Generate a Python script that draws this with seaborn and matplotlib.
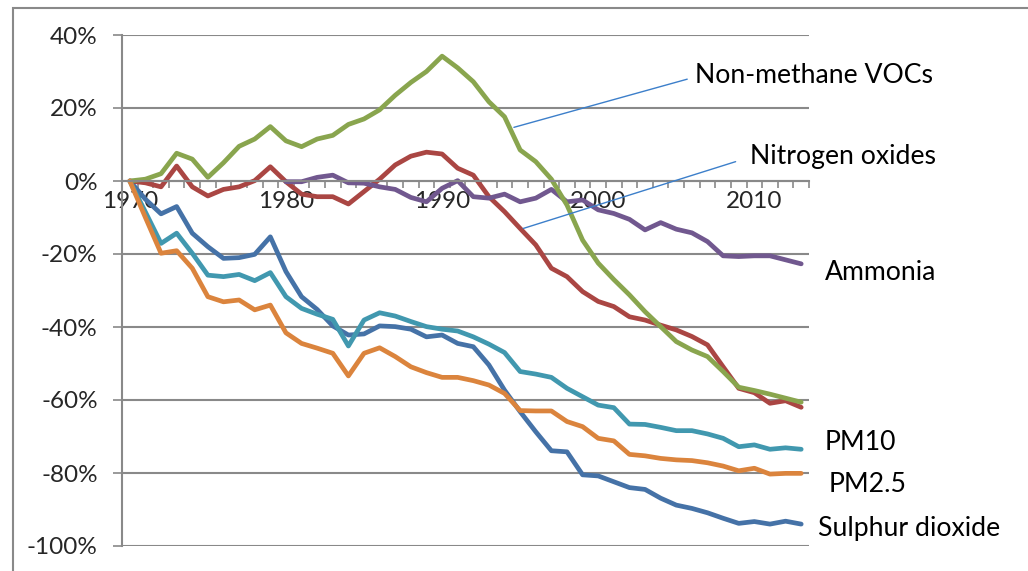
import numpy as np
import pandas as pd
import matplotlib
matplotlib.use("Agg")
import matplotlib.pyplot as plt
import seaborn as sns
from matplotlib.ticker import FixedLocator
from matplotlib.patches import Rectangle

# ---- Data: % change since 1970 ----
YEARS = list(range(1970, 2014))
AMMONIA_YEARS = list(range(1980, 2014))

sulphur_dioxide = [
    0, -5, -9, -7, -14.3, -18, -21.2, -21, -20.1, -15.3,
    -24.8, -31.7, -35.2, -39.7, -42.2, -41.9, -39.7, -39.9, -40.6, -42.7,
    -42.2, -44.5, -45.4, -50.4, -57.3, -63.2, -68.7, -73.9, -74.2, -80.5,
    -80.8, -82.4, -84, -84.5, -86.9, -88.8, -89.7, -90.9, -92.4, -93.8,
    -93.3, -94, -93.2, -94,
]
nitrogen_oxides = [
    0, -0.5, -1.6, 4.1, -1.6, -4.1, -2.3, -1.6, 0.1, 3.9,
    -0.2, -3.6, -4.3, -4.3, -6.3, -2.9, 0.5, 4.4, 6.8, 7.9,
    7.4, 3.5, 1.6, -4.3, -8.4, -13, -17.5, -23.9, -26.2, -30.3,
    -33, -34.4, -37.2, -38.1, -39.5, -40.8, -42.6, -44.9, -50.9, -56.8,
    -58, -60.9, -60.2, -62,
]
nmvocs = [
    0, 0.5, 2, 7.6, 6, 1, 5, 9.5, 11.5, 14.9,
    11, 9.4, 11.5, 12.5, 15.5, 17, 19.5, 23.5, 27, 30,
    34.2, 31, 27.2, 21.7, 17.6, 8.5, 5.3, 0.5, -6.6, -16.2,
    -22.5, -27, -31.2, -35.8, -39.9, -44, -46.3, -48.1, -52.2, -56.5,
    -57.4, -58.4, -59.5, -60.6,
]
ammonia = [
    -0.2, -0.2, 1, 1.6, -0.5, -0.6, -1.6, -2.3, -4.5, -5.7,
    -2, 0.1, -4.3, -4.7, -3.6, -5.7, -4.7, -2.3, -5.7, -5.2,
    -7.9, -8.9, -10.5, -13.4, -11.4, -13.2, -14.2, -16.6, -20.5, -20.7,
    -20.5, -20.5, -21.6, -22.7,
]
pm10 = [
    0, -8.5, -17.1, -14.3, -19.8, -25.8, -26.2, -25.6, -27.3, -25.1,
    -31.7, -34.9, -36.5, -37.9, -45.2, -38.1, -36.1, -37, -38.5, -39.9,
    -40.6, -41.1, -42.7, -44.7, -47, -52.2, -52.9, -53.8, -56.8, -59.1,
    -61.4, -62.1, -66.6, -66.7, -67.5, -68.4, -68.4, -69.3, -70.5, -72.8,
    -72.3, -73.5, -73.1, -73.5,
]
pm25 = [
    0, -10, -19.8, -19.1, -23.9, -31.7, -33.1, -32.6, -35.3, -34,
    -41.6, -44.5, -45.8, -47.2, -53.4, -47.2, -45.7, -48.1, -50.9, -52.5,
    -53.8, -53.8, -54.7, -55.9, -58.2, -62.9, -63, -63, -65.9, -67.3,
    -70.5, -71.2, -74.9, -75.3, -76, -76.4, -76.6, -77.2, -78.1, -79.4,
    -78.7, -80.3, -80.1, -80.1,
]

SERIES = ["Sulphur dioxide", "Nitrogen oxides", "Ammonia",
          "Non-methane VOCs", "PM10", "PM2.5"]
COLORS = {
    "Sulphur dioxide": "#4572A7",
    "Nitrogen oxides": "#AA4643",
    "Non-methane VOCs": "#89A54E",
    "Ammonia": "#71588F",
    "PM10": "#4198AF",
    "PM2.5": "#DB843D",
}
Y_TICKS = [40, 20, 0, -20, -40, -60, -80, -100]
Y_TICK_LABELS = ["40%", "20%", "0%", "-20%", "-40%", "-60%", "-80%", "-100%"]
X_TICKS = [1970, 1980, 1990, 2000, 2010]

GRID = "#898989"

# ---- Long-format table for seaborn ----
frames = []
for name, yrs, vals in [
    ("Sulphur dioxide", YEARS, sulphur_dioxide),
    ("Nitrogen oxides", YEARS, nitrogen_oxides),
    ("Ammonia", AMMONIA_YEARS, ammonia),
    ("Non-methane VOCs", YEARS, nmvocs),
    ("PM10", YEARS, pm10),
    ("PM2.5", YEARS, pm25),
]:
    frames.append(pd.DataFrame({"year": yrs, "change": vals, "series": name}))
df = pd.concat(frames, ignore_index=True)

sns.set_style("white")
plt.rcParams["font.family"] = ["Lato", "DejaVu Sans"]

fig = plt.figure(figsize=(10.28, 5.71), dpi=100)
ax = fig.add_axes([122 / 1028, 1 - 546 / 571, (809 - 122) / 1028, (546 - 35) / 571])

sns.lineplot(data=df, x="year", y="change", hue="series", hue_order=SERIES,
             palette=COLORS, linewidth=3.4, legend=False, ax=ax)

ax.set_xlim(1969.5, 2013.5)
ax.set_ylim(-100, 40)
ax.set_xlabel("")
ax.set_ylabel("")

# y axis
ax.set_yticks(Y_TICKS)
ax.set_yticklabels(Y_TICK_LABELS)
ax.yaxis.grid(True, color=GRID, linewidth=1.5)
ax.set_axisbelow(True)
ax.tick_params(axis="y", which="major", left=True, length=6.5, width=1.2,
               color=GRID, pad=11, labelsize=17.5)

# x axis crossing at 0 with yearly boundary ticks
ax.spines["bottom"].set_position(("data", 0))
ax.xaxis.set_minor_locator(FixedLocator(np.arange(1969.5, 2014, 1.0)))
ax.set_xticks(X_TICKS)
ax.set_xticklabels([str(y) for y in X_TICKS])
ax.tick_params(axis="x", which="major", bottom=True, length=0, pad=7, labelsize=17.5)
ax.tick_params(axis="x", which="minor", bottom=True, length=5, width=1.2,
               color=GRID, direction="out")
for side in ["top", "right"]:
    ax.spines[side].set_visible(False)
for side in ["left", "bottom"]:
    ax.spines[side].set_color(GRID)
    ax.spines[side].set_linewidth(1.5)

# series labels
label_kw = dict(fontsize=19.2, va="center", ha="left", color="black")
ax.text(2006.2, 28.8, "Non-methane VOCs", **label_kw)
ax.text(2009.7, 6.6, "Nitrogen oxides", **label_kw)
ax.text(2014.5, -25.0, "Ammonia", **label_kw)
ax.text(2014.5, -71.6, "PM10", **label_kw)
ax.text(2014.75, -83.2, "PM2.5", **label_kw)
ax.text(2014.1, -95.2, "Sulphur dioxide", **label_kw)

# leader lines
leader = dict(arrowstyle="-", color="#3C7FCA", linewidth=1.0, shrinkA=0, shrinkB=0)
ax.annotate("", xy=(1994.6, 14.7), xytext=(2005.7, 27.9), arrowprops=leader)
ax.annotate("", xy=(1995.2, -13.0), xytext=(2008.8, 5.3), arrowprops=leader)

# chart area border
fig.patches.append(Rectangle((13 / 1028, -0.1), 1.2, 1 - 8 / 571 + 0.1,
                             transform=fig.transFigure, fill=False,
                             edgecolor=GRID, linewidth=1.5))

fig.savefig("out.png", dpi=100)
